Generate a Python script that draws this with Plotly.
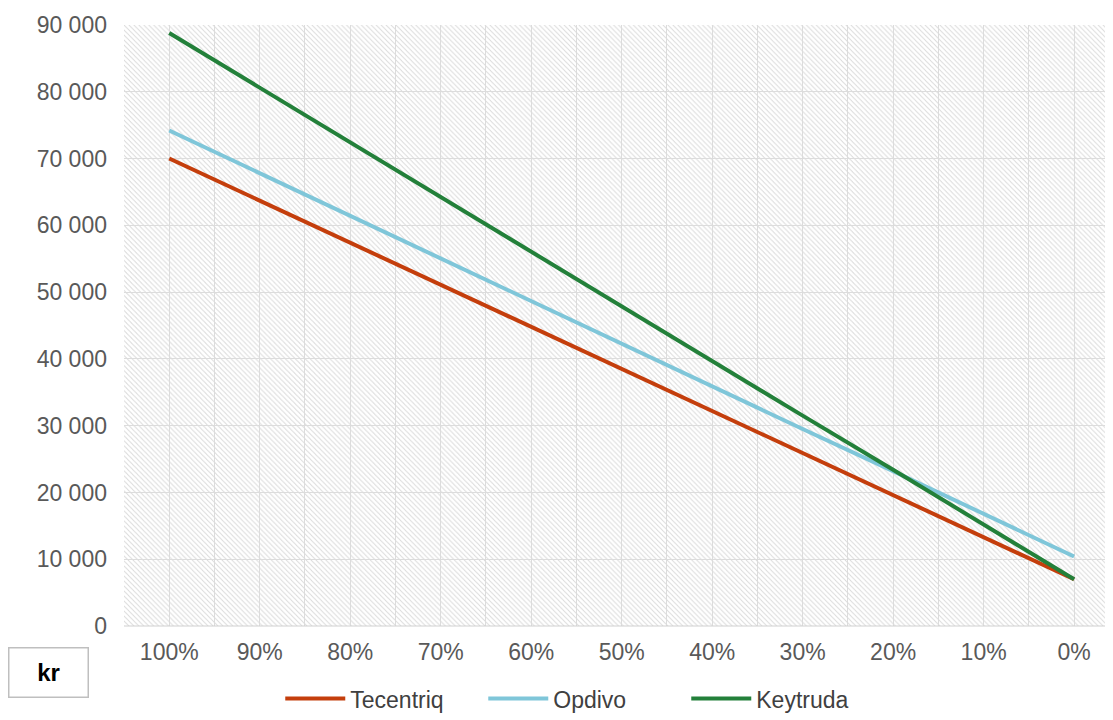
import base64
import plotly.graph_objects as go

categories = ["100%", "90%", "80%", "70%", "60%", "50%", "40%", "30%", "20%", "10%", "0%"]
tecentriq = [70000, 63700, 57400, 51100, 44800, 38500, 32200, 25900, 19600, 13300, 7000]
opdivo = [74200, 67800, 61400, 55100, 48700, 42300, 35900, 29500, 23200, 16800, 10400]
keytruda = [88800, 80600, 72400, 64300, 56100, 47900, 39700, 31500, 23400, 15200, 7000]

# diagonal hatch for the plot-area background, as an inline svg
hatch_svg = (
    '<svg xmlns="http://www.w3.org/2000/svg" width="1000" height="600">'
    '<defs><pattern id="h" width="5" height="5" patternUnits="userSpaceOnUse">'
    '<rect width="5" height="5" fill="white"/>'
    '<path d="M-1,-1 L6,6 M-1,4 L1,6 M4,-1 L6,1" stroke="#d8d8d8" stroke-width="0.9"/>'
    '</pattern></defs><rect width="1000" height="600" fill="url(#h)"/></svg>'
)
hatch_src = "data:image/svg+xml;base64," + base64.b64encode(hatch_svg.encode()).decode()

x = list(range(len(categories)))
fig = go.Figure()
for name, vals, color in [("Tecentriq", tecentriq, "#c43e0c"),
                          ("Opdivo", opdivo, "#7fc6d9"),
                          ("Keytruda", keytruda, "#23803a")]:
    fig.add_trace(go.Scatter(x=x, y=vals, mode="lines", name=name,
                             line=dict(color=color, width=4)))

tickvals = [i / 2 for i in range(0, 21)]
ticktext = [categories[int(v)] if v == int(v) else "" for v in tickvals]

# page body adds an 8px offset, so the figure is sized to fit the window
fig.update_layout(
    width=1105, height=712,
    margin=dict(l=116, r=0, t=17, b=94, autoexpand=False),
    paper_bgcolor="white", plot_bgcolor="rgba(0,0,0,0)",
    font=dict(family="Liberation Sans, Arial", size=23, color="#595959"),
    xaxis=dict(range=[-0.5, 10.43], tickvals=tickvals, ticktext=ticktext,
               showgrid=True, gridcolor="#dcdcdc", gridwidth=1, zeroline=False,
               ticks="", ticklabelstandoff=10),
    yaxis=dict(range=[0, 90000], dtick=10000, tickformat=",",
               showgrid=True, gridcolor="#dcdcdc", zeroline=False, ticklabelstandoff=16),
    separators=". ",
    legend=dict(orientation="h", x=0.158, xanchor="left", y=-0.085, yanchor="top",
                font=dict(size=23, color="#404040"), itemwidth=60,
                entrywidth=128, entrywidthmode="pixels"),
    images=[dict(source=hatch_src, xref="paper", yref="paper", x=0, y=1, sizex=1, sizey=1,
                 xanchor="left", yanchor="top", sizing="stretch", layer="below")],
    shapes=[dict(type="line", xref="paper", yref="paper", x0=0, x1=1, y0=0, y1=0,
                 line=dict(color="#d0d0d0", width=1))],
    annotations=[dict(text="<b>kr</b>", xref="paper", yref="paper", x=-0.117, y=-0.035,
                      xanchor="left", yanchor="top", showarrow=False,
                      font=dict(size=24, color="black"), bordercolor="#bfbfbf",
                      borderwidth=1.5, width=76, height=46, bgcolor="white")],
)
fig.write_html("out.html")
